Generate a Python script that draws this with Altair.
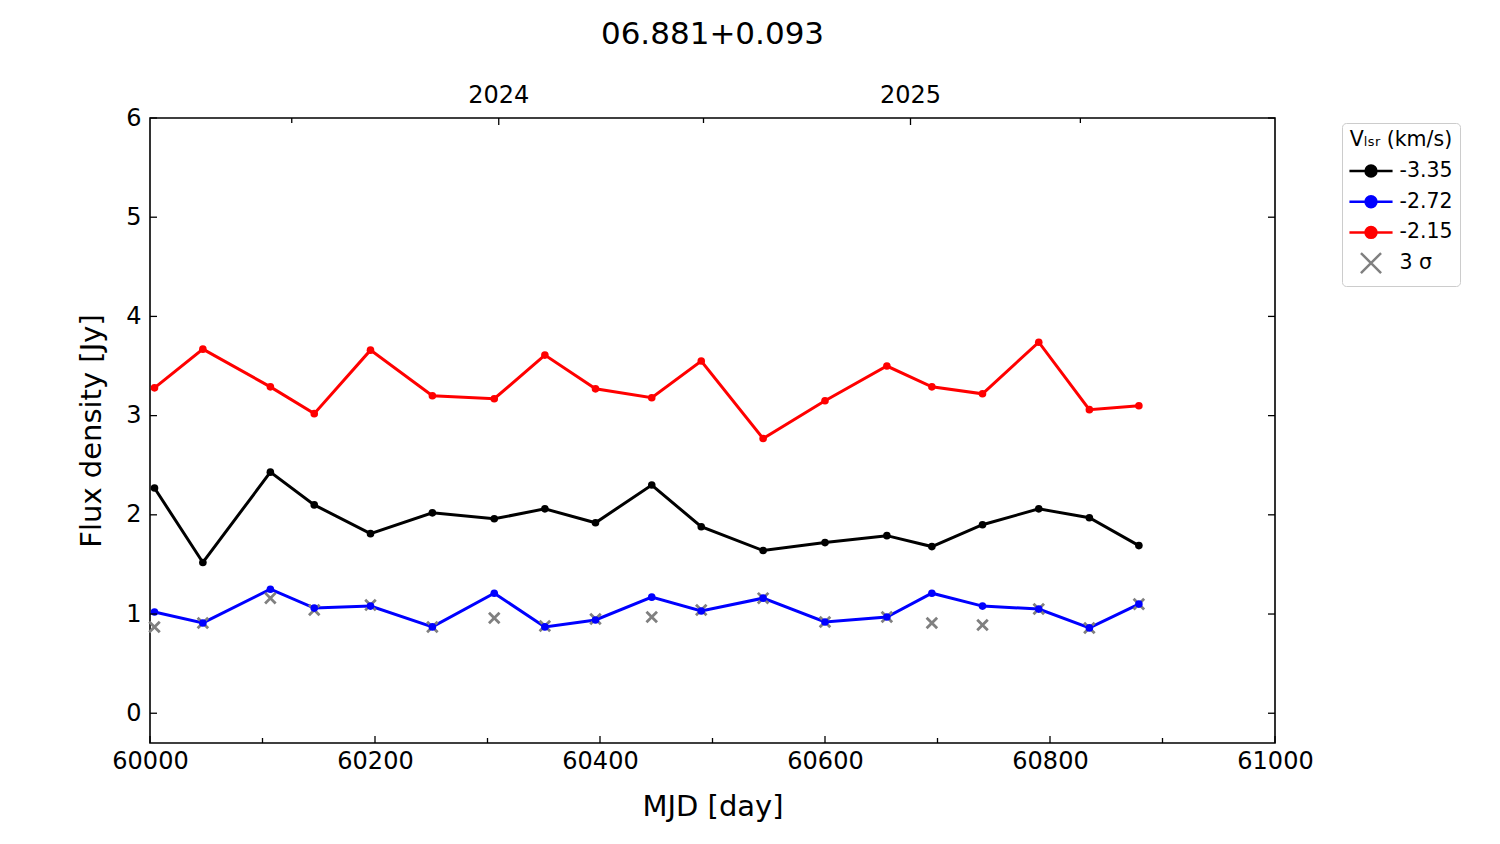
import altair as alt
import pandas as pd

# ---------------- data ----------------
mjd = [60004, 60047, 60107, 60146, 60196, 60251, 60306, 60351, 60396, 60446,
       60490, 60545, 60600, 60655, 60695, 60740, 60790, 60835, 60879]
flux_m335 = [2.27, 1.52, 2.43, 2.10, 1.81, 2.02, 1.96, 2.06, 1.92, 2.30,
             1.88, 1.64, 1.72, 1.79, 1.68, 1.90, 2.06, 1.97, 1.69]
flux_m272 = [1.02, 0.91, 1.25, 1.06, 1.08, 0.87, 1.21, 0.87, 0.94, 1.17,
             1.03, 1.16, 0.92, 0.97, 1.21, 1.08, 1.05, 0.86, 1.10]
flux_m215 = [3.28, 3.67, 3.29, 3.02, 3.66, 3.20, 3.17, 3.61, 3.27, 3.18,
             3.55, 2.77, 3.15, 3.50, 3.29, 3.22, 3.74, 3.06, 3.10]
sigma3 = [0.87, 0.91, 1.16, 1.04, 1.09, 0.87, 0.96, 0.88, 0.95, 0.97,
          1.04, 1.16, 0.92, 0.97, 0.91, 0.89, 1.05, 0.86, 1.10]

series_names = ["-3.35", "-2.72", "-2.15"]
sigma_name = "3 σ"
stroke_colors = ["black", "blue", "red", "gray"]
fill_colors = ["black", "blue", "red", "transparent"]

x_major = [60000, 60200, 60400, 60600, 60800, 61000]
x_minor = [60100, 60300, 60500, 60700, 60900]
y_major = [0, 1, 2, 3, 4, 5, 6]
year_mjd = [60310, 60676]
year_labels = ["2024", "2025"]
year_minor = [60126, 60492, 60827]

# ---------------- frames ----------------
rows = []
for name, vals in zip(series_names, [flux_m335, flux_m272, flux_m215]):
    for m, v in zip(mjd, vals):
        rows.append({"mjd": m, "flux": v, "series": name})
df_lines = pd.DataFrame(rows)
df_sigma = pd.DataFrame({"mjd": mjd, "flux": sigma3, "series": [sigma_name] * len(mjd)})
df_xmaj = pd.DataFrame({"v": x_major})
df_xmin = pd.DataFrame({"v": x_minor})
df_ymaj = pd.DataFrame({"v": y_major})
df_years = pd.DataFrame({"v": year_mjd, "label": year_labels})
df_year_minor = pd.DataFrame({"v": year_minor})

W, H = 1125, 625
FONT = "DejaVu Sans"
MAJ, MIN = 7, 5

LINE_PATH = "M-1.54,0H1.54M-0.39,0A0.39,0.39,0,1,0,0.39,0A0.39,0.39,0,1,0,-0.39,0Z"
X_PATH = "M-0.72,-0.72L0.72,0.72M-0.72,0.72L0.72,-0.72"
domain_all = series_names + [sigma_name]

xscale = alt.Scale(domain=[60000, 61000], nice=False, zero=False)
yscale = alt.Scale(domain=[-0.3, 6], nice=False, zero=False)

xaxis = alt.Axis(values=x_major, format="d", labelFontSize=24, labelFont=FONT,
                 labelColor="black", labelFlush=False, labelOverlap=False,
                 labelPadding=6, ticks=False, tickSize=0, domain=False, grid=False,
                 title="MJD [day]", titleFontSize=29, titleFont=FONT,
                 titleFontWeight="normal", titleColor="black",
                 titleX=W / 2, titleY=63, titleBaseline="middle", titleAlign="center")
yaxis = alt.Axis(values=y_major, format="d", labelFontSize=24, labelFont=FONT,
                 labelColor="black", labelPadding=9, ticks=False, tickSize=0,
                 domain=False, grid=False,
                 title="Flux density [Jy]", titleFontSize=29, titleFont=FONT,
                 titleFontWeight="normal", titleColor="black",
                 titleX=-59, titleY=H / 2, titleAngle=270,
                 titleBaseline="middle", titleAlign="center")

legend = alt.Legend(
    title="Vₗₛᵣ (km/s)", orient="none", legendX=1192, legendY=5,
    symbolSize=784, symbolStrokeWidth=2.5, symbolOpacity=1,
    symbolOffset=6.5, labelOffset=13,
    labelFontSize=20.5, labelFont=FONT, labelColor="black",
    titleFontSize=20.5, titleFont=FONT, titleFontWeight="normal", titleColor="black",
    titleAnchor="middle", titlePadding=5,
    fillColor="white", strokeColor="#cccccc", cornerRadius=4, padding=7, rowPadding=4.7,
)
stroke_enc = alt.Stroke("series:N", scale=alt.Scale(domain=domain_all, range=stroke_colors),
                        legend=legend)
fill_enc = alt.Fill("series:N", scale=alt.Scale(domain=domain_all, range=fill_colors),
                    legend=legend)
shape_enc = alt.Shape("series:N",
                      scale=alt.Scale(domain=domain_all, range=[LINE_PATH] * 3 + [X_PATH]),
                      legend=legend)

X = alt.X("mjd:Q", scale=xscale, axis=xaxis)
Y = alt.Y("flux:Q", scale=yscale, axis=yaxis)

lines = alt.Chart(df_lines).mark_line(strokeWidth=3).encode(
    x=X, y=Y, stroke=stroke_enc, detail="series:N")
sig = alt.Chart(df_sigma).mark_point(filled=False, size=215, strokeWidth=2.8, opacity=1).encode(
    x=X, y=Y, stroke=stroke_enc, shape=shape_enc)
pts = alt.Chart(df_lines).mark_circle(size=58, opacity=1).encode(x=X, y=Y, fill=fill_enc)


def xticks(df, length, top):
    ys = (alt.value(0), alt.value(length)) if top else (alt.value(H), alt.value(H - length))
    return alt.Chart(df).mark_rule(color="black", strokeWidth=1.3).encode(
        x=alt.X("v:Q", scale=xscale), y=ys[0], y2=ys[1])


def yticks(df, length, right):
    xs = (alt.value(W), alt.value(W - length)) if right else (alt.value(0), alt.value(length))
    return alt.Chart(df).mark_rule(color="black", strokeWidth=1.3).encode(
        y=alt.Y("v:Q", scale=yscale), x=xs[0], x2=xs[1])


years = alt.Chart(df_years).mark_text(fontSize=24, font=FONT, color="black",
                                      align="center", baseline="middle").encode(
    x=alt.X("v:Q", scale=xscale), y=alt.value(-22), text="label:N")

chart = alt.layer(
    lines, sig, pts,
    xticks(df_xmaj, MAJ, False), xticks(df_xmin, MIN, False),
    xticks(pd.DataFrame({"v": year_mjd}), MAJ, True), xticks(df_year_minor, MIN, True),
    yticks(df_ymaj, MAJ, False), yticks(df_ymaj, MAJ, True),
    years,
).properties(
    width=W, height=H,
    title=alt.TitleParams("06.881+0.093", fontSize=31, font=FONT, fontWeight="normal",
                          color="black", anchor="middle", offset=33),
    autosize=alt.AutoSizeParams(type="none"),
    padding={"left": 142, "top": 110, "right": 210, "bottom": 90},
    background="white",
).configure(font=FONT).configure_view(stroke="black", strokeWidth=1.6)

chart.save("out.html", embed_options={"renderer": "svg", "actions": False})
